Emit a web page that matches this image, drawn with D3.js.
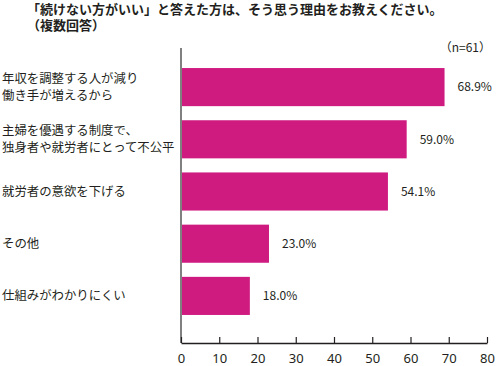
<!DOCTYPE html>
<html><head><meta charset="utf-8">
<script src="https://cdn.jsdelivr.net/npm/d3@7"></script>
<style>
body{margin:0;background:#fff;}
svg{display:block;font-family:"Noto Sans CJK JP","Noto Sans",sans-serif;}
</style></head>
<body><svg id="c" width="496" height="366"></svg>
<script>
const titleLines = ["「続けない方がいい」と答えた方は、そう思う理由をお教えください。", "（複数回答）"];
const categories = [
  ["年収を調整する人が減り", "働き手が増えるから"],
  ["主婦を優遇する制度で、", "独身者や就労者にとって不公平"],
  ["就労者の意欲を下げる"],
  ["その他"],
  ["仕組みがわかりにくい"]
];
const values = [68.9, 59.0, 54.1, 23.0, 18.0];
const valueLabels = ["68.9%", "59.0%", "54.1%", "23.0%", "18.0%"];
const xTicks = [0, 10, 20, 30, 40, 50, 60, 70, 80];
const note = "（n=61）";

const svg = d3.select("#c");
const x = d3.scaleLinear().domain([0, 80]).range([181, 487]);
const y = d3.scaleBand().domain(d3.range(categories.length)).range([61, 322]).paddingInner(0.27).paddingOuter(0.135);
const color = "#cf1a80";

// title
svg.append("g").selectAll("text").data(titleLines).join("text")
  .attr("x", 27)
  .attr("y", (d,i)=> 14 + i*16)
  .attr("font-size", 13).attr("font-weight", "bold").attr("fill", "#231f20")
  .text(d=>d);

// note
svg.append("text").attr("x", 491).attr("y", 52).attr("text-anchor", "end")
  .attr("font-size", 12).attr("fill", "#231f20").text(note);

// bars
svg.append("g").selectAll("rect").data(values).join("rect")
  .attr("x", x(0)).attr("y", (d,i)=>y(i))
  .attr("width", d=>x(d)-x(0)).attr("height", y.bandwidth())
  .attr("fill", color);

// value labels
svg.append("g").selectAll("text").data(values).join("text")
  .attr("x", d=>x(d)+13).attr("y", (d,i)=>y(i)+y.bandwidth()/2)
  .attr("dy", "0.35em").attr("font-size", 12).attr("fill", "#231f20")
  .text((d,i)=>valueLabels[i]);

// category labels
const lineGap = 17;
const cg = svg.append("g").selectAll("text").data(categories).join("text")
  .attr("font-size", 12.4).attr("fill", "#231f20")
  .attr("y", (d,i)=>y(i)+y.bandwidth()/2 + 4.5 - (d.length-1)*lineGap/2);
cg.selectAll("tspan").data(d=>d.map((t,j)=>({t,j}))).join("tspan")
  .attr("x", 2)
  .attr("dy", d=> d.j===0 ? 0 : lineGap)
  .text(d=>d.t);

// y axis line
svg.append("line").attr("x1", x(0)).attr("x2", x(0)).attr("y1", 48).attr("y2", 343)
  .attr("stroke", "#808080").attr("stroke-width", 2);

// x axis
const xAxis = d3.axisBottom(x).tickValues(xTicks).tickSize(-6).tickPadding(11).tickSizeOuter(0);
const ax = svg.append("g").attr("transform", "translate(0,343)").call(xAxis);
ax.select(".domain").attr("stroke", "#231f20").attr("stroke-width", 1.5);
ax.selectAll(".tick line").attr("stroke", "#231f20").attr("stroke-width", 1.2);
ax.selectAll(".tick text").attr("font-size", 13).attr("fill", "#231f20")
  .attr("font-family", "'Noto Sans',sans-serif");
</script></body></html>
